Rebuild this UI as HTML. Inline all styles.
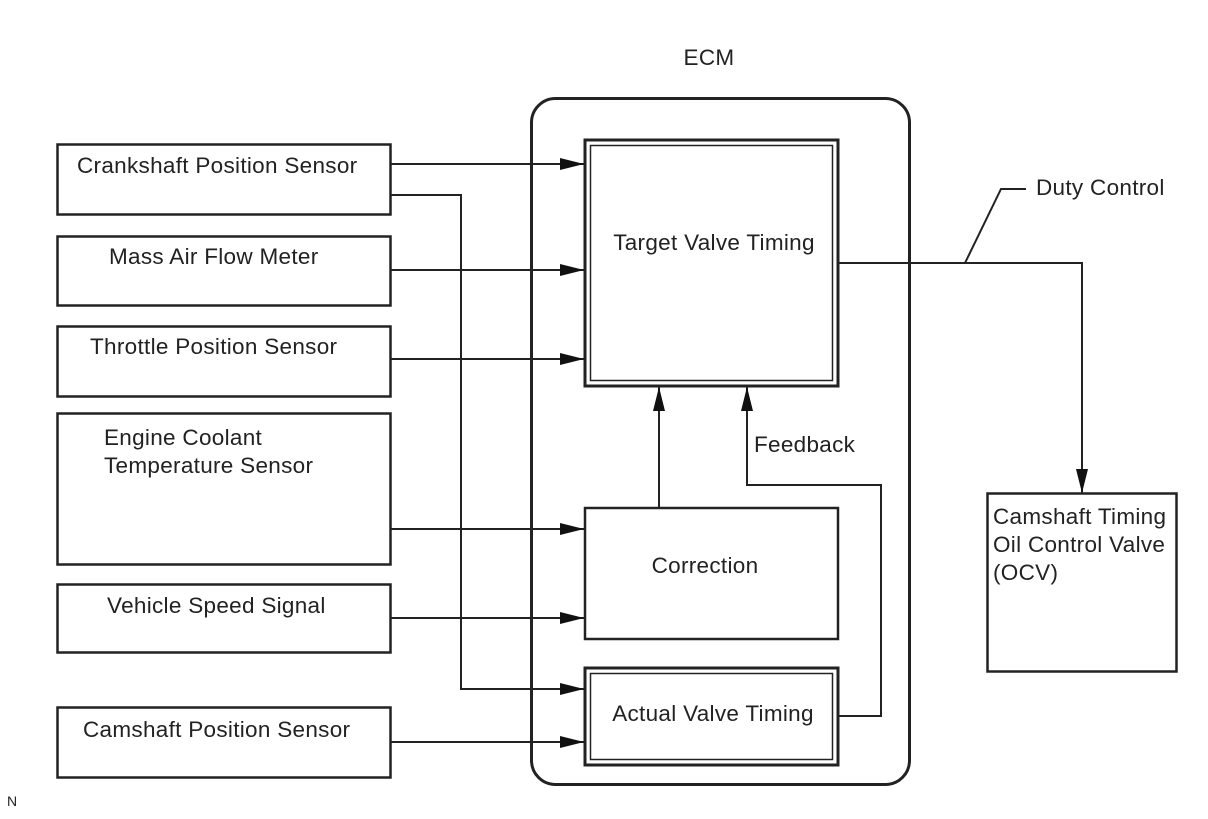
<!DOCTYPE html>
<html><head><meta charset="utf-8"><style>
html,body{margin:0;padding:0;background:#fff;}
svg text{font-family:"Liberation Sans",Arial,sans-serif;font-size:22.5px;letter-spacing:0.3px;fill:#222;}
</style></head><body>
<svg width="1208" height="814" viewBox="0 0 1208 814" xmlns="http://www.w3.org/2000/svg">
<defs>
<marker id="a" markerWidth="24" markerHeight="12" refX="24" refY="6" orient="auto" markerUnits="userSpaceOnUse"><path d="M0,0 L24,6 L0,12 Z" fill="#111"/></marker>
</defs>
<g fill="none" stroke="#222">
<rect x="531.5" y="98.5" width="378" height="686" rx="24" stroke-width="3"/>
<rect x="57.5" y="144.5" width="333" height="70" stroke-width="2.5"/>
<rect x="57.5" y="236.5" width="333" height="69" stroke-width="2.5"/>
<rect x="57.5" y="326.5" width="333" height="70" stroke-width="2.5"/>
<rect x="57.5" y="413.5" width="333" height="151" stroke-width="2.5"/>
<rect x="57.5" y="584.5" width="333" height="68" stroke-width="2.5"/>
<rect x="57.5" y="707.5" width="333" height="70" stroke-width="2.5"/>
<rect x="585" y="140" width="253" height="246" stroke-width="3"/>
<rect x="590.5" y="145.5" width="242" height="235" stroke-width="1.5"/>
<rect x="585" y="508" width="253" height="131" stroke-width="2.5"/>
<rect x="585" y="668" width="253" height="97" stroke-width="3"/>
<rect x="590.5" y="673.5" width="242" height="86" stroke-width="1.5"/>
<rect x="987.5" y="493.5" width="189" height="178" stroke-width="2.5"/>
<g stroke-width="2">
<line x1="391" y1="164" x2="584" y2="164" marker-end="url(#a)"/>
<line x1="391" y1="270" x2="584" y2="270" marker-end="url(#a)"/>
<line x1="391" y1="359" x2="584" y2="359" marker-end="url(#a)"/>
<line x1="391" y1="529" x2="584" y2="529" marker-end="url(#a)"/>
<line x1="391" y1="618" x2="584" y2="618" marker-end="url(#a)"/>
<line x1="391" y1="742" x2="584" y2="742" marker-end="url(#a)"/>
<polyline points="391,195 461,195 461,689 584,689" marker-end="url(#a)"/>
<line x1="659" y1="508" x2="659" y2="387" marker-end="url(#a)"/>
<polyline points="838,716 881,716 881,485 747,485 747,387" marker-end="url(#a)"/>
<polyline points="838,263 1082,263 1082,493" marker-end="url(#a)"/>
<polyline points="965,263 1001,189 1026,189"/>
</g>
</g>
<text x="709" y="65" text-anchor="middle">ECM</text>
<text x="77" y="173">Crankshaft Position Sensor</text>
<text x="109" y="264">Mass Air Flow Meter</text>
<text x="90" y="354">Throttle Position Sensor</text>
<text x="104" y="445">Engine Coolant</text>
<text x="104" y="473">Temperature Sensor</text>
<text x="107" y="613">Vehicle Speed Signal</text>
<text x="83" y="737">Camshaft Position Sensor</text>
<text x="714" y="250" text-anchor="middle">Target Valve Timing</text>
<text x="705" y="573" text-anchor="middle">Correction</text>
<text x="713" y="721" text-anchor="middle">Actual Valve Timing</text>
<text x="754" y="452">Feedback</text>
<text x="1036" y="195">Duty Control</text>
<text x="993" y="524">Camshaft Timing</text>
<text x="993" y="552">Oil Control Valve</text>
<text x="993" y="580">(OCV)</text>
<text x="7" y="806" style="font-size:14px">N</text>
</svg>
</body></html>
